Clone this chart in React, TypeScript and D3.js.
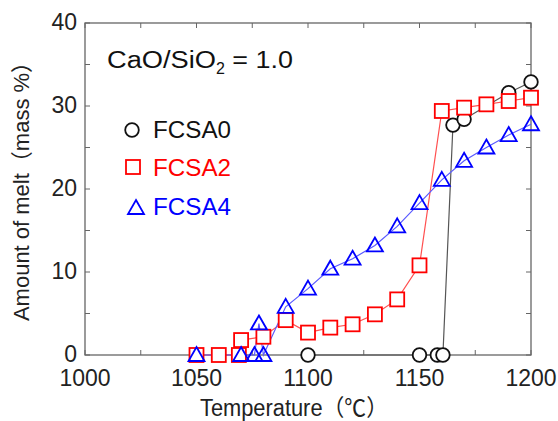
import React from 'react';
import * as d3 from 'd3';

// FCSA0 (black circles)
const tempA0 = [1100, 1150, 1158, 1160.5, 1165, 1170, 1190, 1200];
const meltA0 = [0, 0, 0, 0, 27.7, 28.4, 31.6, 32.9];

// FCSA2 (red squares)
const tempA2 = [1050, 1060, 1069, 1070, 1080, 1090, 1100, 1110, 1120, 1130, 1140, 1150, 1160, 1170, 1180, 1190, 1200];
const meltA2 = [0, 0, 0, 1.8, 2.2, 4.2, 2.7, 3.3, 3.7, 4.9, 6.7, 10.8, 29.4, 29.8, 30.2, 30.6, 31.0];

// FCSA4 (blue triangles)
const tempA4 = [1050, 1070, 1076, 1078, 1080, 1090, 1100, 1110, 1120, 1130, 1140, 1150, 1160, 1170, 1180, 1190, 1200];
const meltA4 = [0, 0, 0, 3.8, 0, 5.8, 8.0, 10.4, 11.6, 13.2, 15.5, 18.3, 21.1, 23.4, 25.0, 26.5, 27.8];

const xTickLabels = [1000, 1050, 1100, 1150, 1200];
const yTickLabels = [0, 10, 20, 30, 40];

const W = 558;
const H = 421;
const margin = { left: 85, right: 27, top: 23, bottom: 66 };
const font = '"Liberation Sans", Arial, "Noto Sans CJK JP", sans-serif';

type Pt = { t: number; v: number };

const App = () => {
  const x = d3.scaleLinear().domain([1000, 1200]).range([margin.left, W - margin.right]);
  const y = d3.scaleLinear().domain([0, 40]).range([H - margin.bottom, margin.top]);

  const line = d3.line<Pt>().x((d) => x(d.t)).y((d) => y(d.v));
  const pts = (ts: number[], vs: number[]): Pt[] => ts.map((t, i) => ({ t, v: vs[i] }));
  const a0 = pts(tempA0, meltA0);
  const a2 = pts(tempA2, meltA2);
  const a4 = pts(tempA4, meltA4);

  const [x0, x1] = x.range();
  const [y0, y1] = y.range();
  const tickLen = 5;
  const axisColor = '#666';

  const tri = (cx: number, cy: number, s = 8) =>
    `M${cx},${cy - s} L${cx + s},${cy + s * 0.75} L${cx - s},${cy + s * 0.75} Z`;

  const xMinor = d3.range(1000, 1201, 25);
  const yMinor = d3.range(0, 41, 5);

  return (
    <svg width={W} height={H} style={{ position: 'absolute', left: 0, top: 0, background: '#fff' }}
      fontFamily={font}>
      {/* ticks, inward on all four sides */}
      <g stroke={axisColor} strokeWidth={1}>
        {xMinor.map((t) => (
          <g key={'xt' + t}>
            <line x1={x(t)} x2={x(t)} y1={y0} y2={y0 - tickLen} />
            <line x1={x(t)} x2={x(t)} y1={y1} y2={y1 + tickLen} />
          </g>
        ))}
        {yMinor.map((v) => (
          <g key={'yt' + v}>
            <line x1={x0} x2={x0 + tickLen} y1={y(v)} y2={y(v)} />
            <line x1={x1} x2={x1 - tickLen} y1={y(v)} y2={y(v)} />
          </g>
        ))}
        <rect x={x0} y={y1} width={x1 - x0} height={y0 - y1} fill="none" strokeWidth={1.3} />
      </g>

      {/* tick labels */}
      <g fontSize={23} fill="#222">
        {xTickLabels.map((t) => (
          <text key={'xl' + t} x={x(t)} y={y0 + 31} textAnchor="middle">{t}</text>
        ))}
        {yTickLabels.map((v) => (
          <text key={'yl' + v} x={x0 - 8} y={y(v) + 7} textAnchor="end">{v}</text>
        ))}
      </g>

      {/* axis titles */}
      <text x={200} y={416} fontSize={23} fill="#222" textLength={188} lengthAdjust="spacingAndGlyphs">
        Temperature（℃）
      </text>
      <text transform="translate(29,186) rotate(-90)" fontSize={22} textAnchor="middle" fill="#222">
        Amount of melt（mass %）
      </text>

      {/* series lines */}
      <path d={line(a0) ?? ''} fill="none" stroke="#555" strokeWidth={1.2} />
      <path d={line(a2) ?? ''} fill="none" stroke="#ff5050" strokeWidth={1.2} />
      <path d={line(a4) ?? ''} fill="none" stroke="#5a5aff" strokeWidth={1.2} />

      {/* markers */}
      {a0.map((d, i) => (
        <circle key={'c' + i} cx={x(d.t)} cy={y(d.v)} r={6.8} fill="#fff" stroke="#111" strokeWidth={1.8} />
      ))}
      {a2.map((d, i) => (
        <rect key={'s' + i} x={x(d.t) - 7} y={y(d.v) - 7} width={14} height={14}
          fill="#fff" stroke="#ff0000" strokeWidth={1.8} />
      ))}
      {a4.map((d, i) => (
        <path key={'t' + i} d={tri(x(d.t), y(d.v))} fill="none" stroke="#0000ff" strokeWidth={1.8} />
      ))}

      {/* annotation */}
      <text x={107} y={68} fontSize={23} fill="#111">
        <tspan textLength={109} lengthAdjust="spacingAndGlyphs">CaO/SiO</tspan>
        <tspan fontSize={16} dy={6}>2</tspan>
        <tspan dy={-6} textLength={68} lengthAdjust="spacingAndGlyphs"> = 1.0</tspan>
      </text>

      {/* legend */}
      <circle cx={132} cy={130} r={6.8} fill="#fff" stroke="#111" strokeWidth={1.8} />
      <text x={153} y={138} fontSize={23} fill="#111" textLength={78} lengthAdjust="spacingAndGlyphs">FCSA0</text>
      <rect x={126} y={160} width={14} height={14} fill="#fff" stroke="#ff0000" strokeWidth={1.8} />
      <text x={153} y={176} fontSize={23} fill="#ff0000" textLength={78} lengthAdjust="spacingAndGlyphs">FCSA2</text>
      <path d={tri(136, 208)} fill="none" stroke="#0000ff" strokeWidth={1.8} />
      <text x={153} y={215} fontSize={23} fill="#0000ff" textLength={78} lengthAdjust="spacingAndGlyphs">FCSA4</text>
    </svg>
  );
};

export default App;
